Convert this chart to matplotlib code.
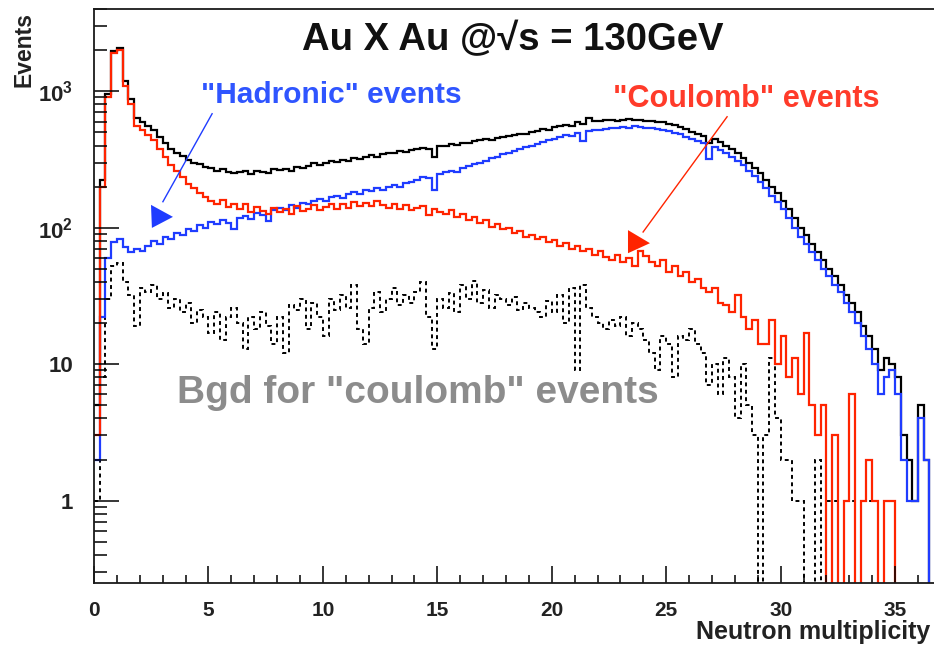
import numpy as np
import matplotlib.pyplot as plt
from matplotlib.ticker import FixedLocator, NullFormatter

plt.rcParams['font.family'] = ['Liberation Sans', 'DejaVu Sans']
plt.rcParams['font.weight'] = 'bold'
plt.rcParams['mathtext.fontset'] = 'custom'
plt.rcParams['mathtext.rm'] = 'Liberation Sans:bold'
plt.rcParams['mathtext.bf'] = 'Liberation Sans:bold'

# neutron multiplicity histograms, bin width 0.25
bin_width = 0.25

all_events = [
    5, 225, 960, 1980, 2080, 1180, 870, 640, 600, 560,
    520, 460, 420, 380, 355, 335, 315, 300, 292, 280,
    272, 262, 268, 255, 250, 258, 262, 248, 262, 255,
    250, 268, 265, 270, 262, 280, 272, 285, 298, 290,
    300, 308, 302, 315, 310, 322, 318, 330, 340, 332,
    348, 355, 350, 362, 358, 370, 375, 385, 380, 330,
    400, 395, 410, 405, 420, 415, 430, 438, 445, 440,
    458, 462, 470, 478, 490, 485, 505, 512, 525, 520,
    545, 555, 570, 560, 600, 580, 640, 610, 605, 615,
    620, 608, 618, 625, 612, 618, 605, 610, 598, 592,
    575, 565, 545, 528, 505, 488, 470, 420, 448, 425,
    400, 378, 352, 325, 300, 275, 250, 225, 200, 180,
    158, 138, 118, 100, 88, 76, 66, 58, 50, 44,
    38, 32, 28, 24, 19, 16, 13, 9, 11, 10,
    8, 3, 2, 1, 5, 2, 0, 0,
]

hadronic = [
    2, 22, 60, 78, 82, 72, 66, 70, 68, 74,
    80, 76, 86, 82, 92, 88, 98, 95, 105, 100,
    110, 106, 114, 108, 98, 118, 122, 115, 128, 124,
    112, 135, 140, 134, 146, 140, 152, 148, 158, 162,
    156, 168, 172, 165, 178, 182, 176, 188, 185, 195,
    190, 200, 205, 198, 212, 218, 222, 235, 230, 190,
    248, 255, 262, 258, 275, 282, 292, 300, 310, 322,
    330, 345, 355, 365, 380, 388, 400, 412, 422, 438,
    450, 465, 480, 470, 498, 430, 512, 522, 518, 532,
    540, 534, 548, 540, 552, 545, 538, 542, 528, 520,
    508, 498, 482, 465, 448, 432, 418, 318, 392, 372,
    352, 330, 310, 288, 262, 240, 218, 195, 172, 155,
    136, 118, 100, 86, 76, 66, 58, 50, 44, 38,
    34, 28, 24, 20, 16, 13, 10, 6, 8, 9,
    6, 2, 1, 1, 4, 2, 0, 0,
]

coulomb = [
    3, 200, 900, 1900, 2000, 1100, 800, 560, 520, 480,
    440, 380, 330, 290, 260, 235, 210, 195, 180, 168,
    158, 150, 160, 142, 150, 136, 148, 130, 142, 132,
    126, 140, 130, 138, 126, 144, 132, 138, 146, 135,
    142, 148, 136, 150, 140, 154, 145, 152, 144, 156,
    146, 140, 150, 136, 146, 134, 140, 145, 124, 136,
    130, 126, 134, 120, 126, 114, 120, 108, 114, 102,
    106, 97, 100, 92, 95, 86, 89, 82, 85, 78,
    81, 74, 77, 70, 73, 67, 70, 63, 67, 61,
    58, 63, 56, 60, 52, 68, 62, 56, 52, 58,
    47, 52, 44, 47, 40, 42, 36, 34, 36, 28,
    27, 24, 32, 22, 18, 21, 14, 14, 21, 10,
    16, 8, 11, 6, 17, 5, 3, 5, 0, 3,
    0, 1, 6, 0, 1, 2, 1, 0, 1, 1,
    0, 0, 0, 0, 0, 0, 0, 0,
]

background = [
    1, 8, 30, 52, 55, 40, 32, 19, 36, 34,
    38, 30, 33, 26, 30, 24, 28, 20, 25, 22,
    17, 24, 15, 22, 26, 20, 13, 22, 18, 24,
    19, 14, 22, 12, 27, 25, 30, 18, 28, 22,
    16, 30, 25, 32, 26, 38, 18, 14, 26, 34,
    24, 30, 36, 27, 32, 28, 34, 40, 22, 13,
    30, 26, 33, 24, 38, 30, 41, 28, 35, 26,
    32, 30, 27, 31, 25, 28, 26, 24, 22, 29,
    24, 32, 20, 36, 9, 38, 26, 22, 20, 18,
    21, 19, 22, 16, 20, 18, 15, 12, 9, 16,
    14, 8, 16, 15, 18, 14, 12, 7, 10, 6,
    11, 8, 4, 10, 5, 3, 0, 3, 11, 4,
    2, 2, 1, 1, 0, 0, 2, 0, 1, 1,
    0, 1, 1, 0, 1, 1, 1, 0, 0, 0,
    0, 0, 0, 0, 0, 0, 0, 0,
]

edges = np.arange(len(all_events) + 1) * bin_width

W, H = 934, 647
fig = plt.figure(figsize=(W / 100, H / 100), dpi=100)
ax = fig.add_axes([94 / W, 1 - 583 / H, 840 / W, 574 / H])

blue = '#1f3cff'
red = '#ff2400'

ax.stairs(all_events, edges, color='black', lw=1.6, baseline=None)
ax.stairs(background, edges, color='black', lw=1.4, ls=(0, (2, 1.8)), baseline=None)
ax.stairs(hadronic, edges, color=blue, lw=1.6, baseline=None)
ax.stairs(coulomb, edges, color=red, lw=1.6, baseline=None)

ax.set_yscale('log', nonpositive='clip')
ax.set_xlim(0, 36.7)
ax.set_ylim(0.249, 4005)

# ROOT-like frame: inward ticks, no right edge in view
ax.spines['right'].set_visible(False)
for s in ('left', 'bottom', 'top'):
    ax.spines[s].set_linewidth(1.3)
    ax.spines[s].set_color('#1a1a1a')

ax.xaxis.set_major_locator(FixedLocator([0, 5, 10, 15, 20, 25, 30, 35]))
ax.xaxis.set_minor_locator(FixedLocator(np.arange(0, 37)))
ax.yaxis.set_major_locator(FixedLocator([1, 10, 100, 1000]))
minors = [m * 10.0 ** d for d in range(-1, 4) for m in range(2, 10)]
ax.yaxis.set_minor_locator(FixedLocator(minors))
ax.yaxis.set_minor_formatter(NullFormatter())
ax.set_yticklabels(['1', '10', r'$10^{2}$', r'$10^{3}$'])

ax.tick_params(axis='x', which='major', direction='in', length=12, width=1.1,
               pad=13, labelsize=15, labelcolor='#222222', top=False)
ax.tick_params(axis='x', which='minor', direction='in', length=5.5, width=1.1, top=False)
ax.tick_params(axis='y', which='major', direction='in', length=18, width=1.1,
               pad=15, labelsize=16, labelcolor='#222222', right=False)
ax.tick_params(axis='y', which='minor', direction='in', length=9, width=1.1, right=False)

fig.text(24 / W, 1 - 12 / H, 'Events', rotation=90, ha='center', va='top',
         fontsize=16.5, color='#222222')
fig.text(930 / W, 1 - 632 / H, 'Neutron multiplicity', ha='right', va='center',
         fontsize=18, color='#222222')

ax.text(0.498, 0.946, 'Au X Au @\u221as = 130GeV', transform=ax.transAxes,
        ha='center', va='center', fontsize=27.5, color='#111111')
ax.text(0.282, 0.850, '"Hadronic" events', transform=ax.transAxes,
        ha='center', va='center', fontsize=21.5, color='#2f55ff')
ax.text(0.777, 0.843, '"Coulomb" events', transform=ax.transAxes,
        ha='center', va='center', fontsize=22, color='#ff3b2a')
ax.text(0.385, 0.331, 'Bgd for "coulomb" events', transform=ax.transAxes,
        ha='center', va='center', fontsize=28, color='#8c8c8c')

# label arrows
ax.plot([5.16, 3.01], [684, 155], color=blue, lw=1.0)
ax.fill([2.49, 2.53, 3.45], [147, 99.6, 120], color=blue, lw=0)
ax.plot([27.66, 23.99], [650, 93], color=red, lw=1.0)
ax.fill([23.33, 23.33, 24.29], [96, 65, 77], color=red, lw=0)

fig.savefig('out.png', dpi=100)
